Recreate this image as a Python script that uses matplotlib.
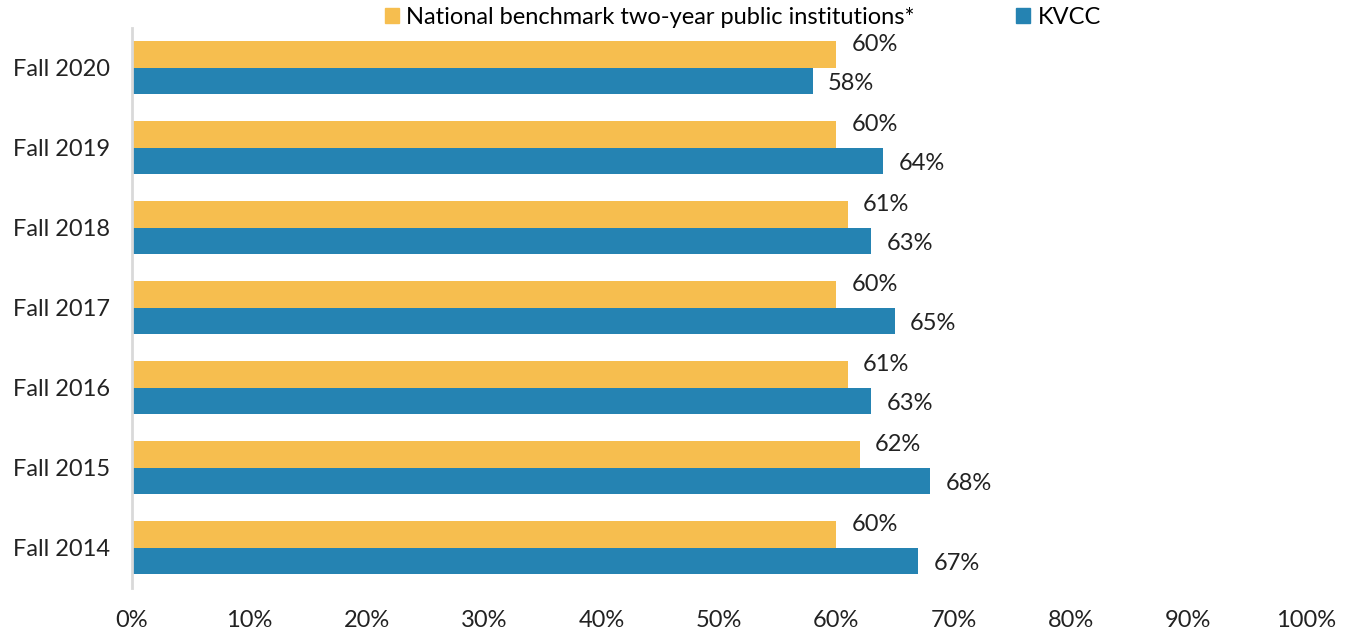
import numpy as np
import matplotlib
matplotlib.use('Agg')
import matplotlib.pyplot as plt
from matplotlib.patches import Patch

plt.rcParams['font.family'] = ['Lato', 'DejaVu Sans']

# data, top to bottom as in the chart
terms = ['Fall 2020', 'Fall 2019', 'Fall 2018', 'Fall 2017', 'Fall 2016', 'Fall 2015', 'Fall 2014']
national = [60, 60, 61, 60, 61, 62, 60]
kvcc = [58, 64, 63, 65, 63, 68, 67]
xticks = [0, 10, 20, 30, 40, 50, 60, 70, 80, 90, 100]

orange = '#F6BE4F'
blue = '#2583B2'
fs = 17

fig = plt.figure(figsize=(13.46, 6.34), dpi=100)
ax = fig.add_axes([0.098, 0.073, 0.872, 0.883])

y = np.arange(len(terms))
h = 0.33
ax.barh(y - h / 2, national, height=h, color=orange)
ax.barh(y + h / 2, kvcc, height=h, color=blue)

for i in range(len(terms)):
    ax.annotate('%d%%' % national[i], (national[i], y[i] - h / 2), xytext=(11, 7),
                textcoords='offset points', ha='left', va='center', fontsize=fs, color='#222222')
    ax.annotate('%d%%' % kvcc[i], (kvcc[i], y[i] + h / 2), xytext=(11, -2),
                textcoords='offset points', ha='left', va='center', fontsize=fs, color='#222222')

ax.set_ylim(len(terms) - 0.5, -0.5)
ax.set_yticks(y)
ax.set_yticklabels(terms, fontsize=fs)
ax.set_xlim(0, 100)
ax.set_xticks(xticks)
ax.set_xticklabels(['%d%%' % t for t in xticks], fontsize=fs)
ax.tick_params(axis='both', length=0, colors='#222222')
ax.tick_params(axis='x', pad=16)
ax.tick_params(axis='y', pad=16)

for s in ['top', 'right', 'bottom']:
    ax.spines[s].set_visible(False)
ax.spines['left'].set_color('#D9D9D9')
ax.spines['left'].set_linewidth(2)

handles = [Patch(color=orange), Patch(color=blue)]
fig.legend(handles, ['National benchmark two-year public institutions*', 'KVCC'],
           loc='center', bbox_to_anchor=(0.552, 0.972), ncol=2, frameon=False,
           fontsize=fs, handlelength=0.6, handleheight=0.6, handletextpad=0.3,
           columnspacing=4.3)

fig.savefig('out.png', dpi=100)
